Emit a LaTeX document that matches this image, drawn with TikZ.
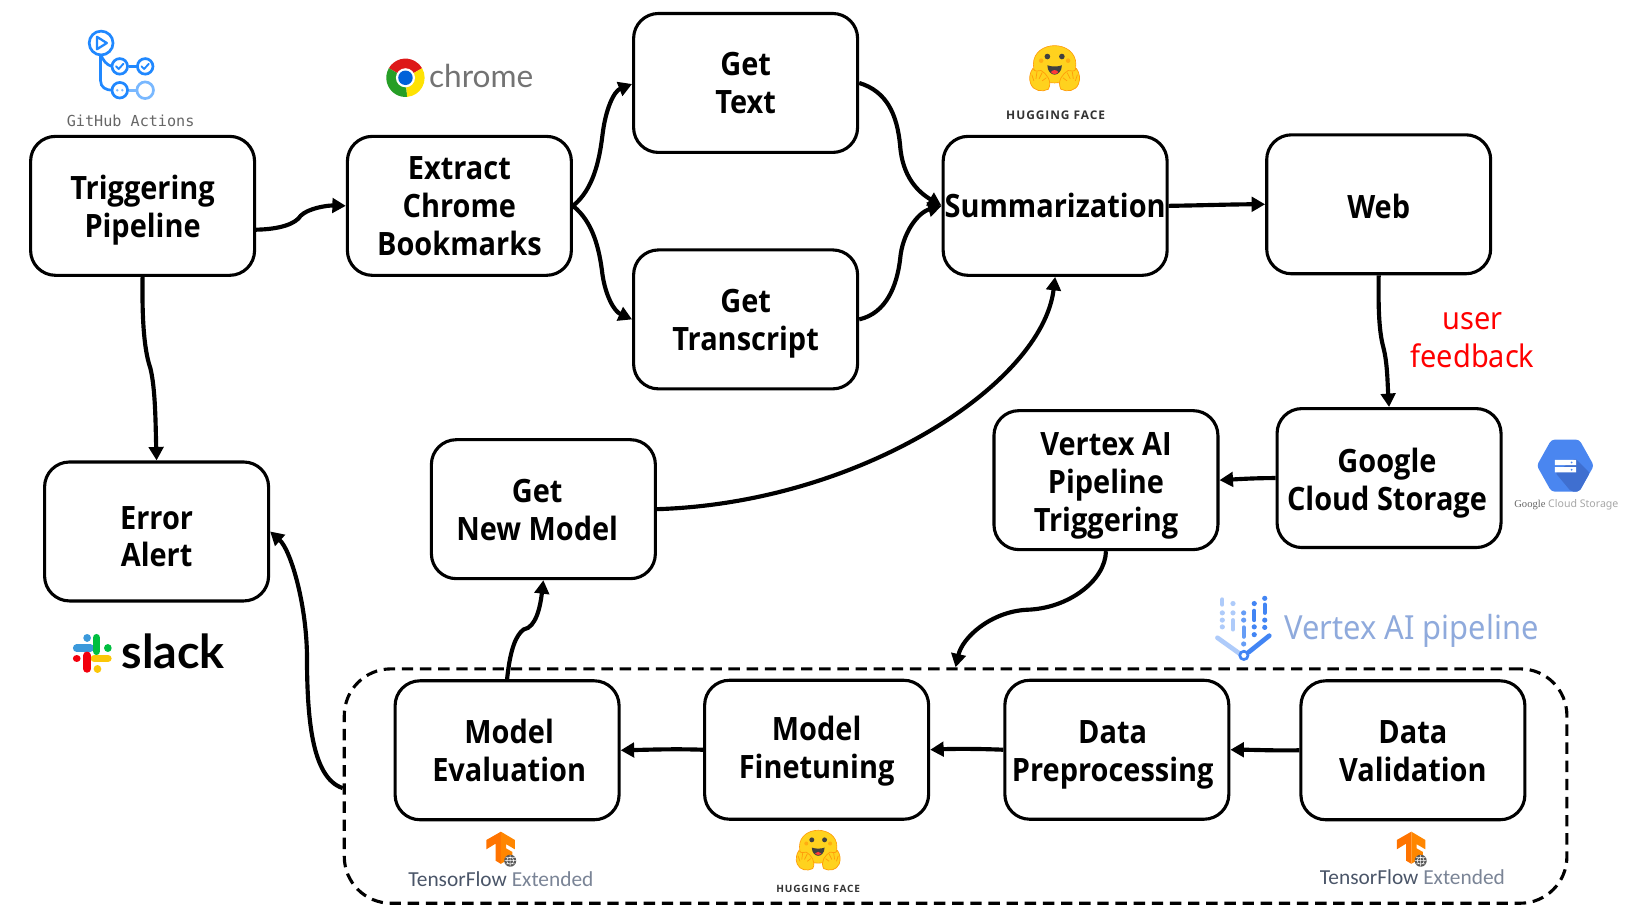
\documentclass[tikz,border=0pt]{standalone}
\usepackage{fontspec}
\setmainfont{Noto Sans}
\newfontfamily\boxf[FakeStretch=0.90]{Open Sans}
\newfontfamily\hff{Open Sans}
\newfontfamily\regf[FakeStretch=0.93]{Noto Sans}
\newfontfamily\monof{DejaVu Sans Mono}
\newfontfamily\latof{Lato}
\newfontfamily\carf{Carlito}
\newfontfamily\serf{Liberation Serif}
\usetikzlibrary{arrows.meta}
\definecolor{ghblue}{HTML}{2088FF}
\definecolor{ghlight}{HTML}{79B8FF}
\definecolor{hfy}{HTML}{FFD21E}
\definecolor{hfo}{HTML}{FF9D0B}
\definecolor{tfslate}{HTML}{4A5568}
\definecolor{tflight}{HTML}{7A8496}
\definecolor{vxblue}{HTML}{4285F4}
\definecolor{vxmid}{HTML}{669DF6}
\definecolor{vxlight}{HTML}{AECBFA}
\definecolor{vxtext}{HTML}{8FAADC}
\definecolor{gcsb}{HTML}{4A86F0}
\definecolor{gcsd}{HTML}{3F6FD0}
\newcommand{\stH}[1]{\rule{0pt}{#1pt}}
\newcommand{\stD}[1]{\rule[-#1pt]{0pt}{#1pt}}
\tikzset{
  box/.style={draw=black,line width=3pt,rounded corners=24pt,minimum width=216pt,minimum height=134pt,
    align=center,inner sep=0pt,font=\boxf\fontsize{31}{36.5}\selectfont\bfseries},
  conn/.style={line width=4pt,-{Triangle[length=13pt,width=14pt]}},
  bare/.style={inner sep=0pt,align=center},
  ghc/.style={draw=ghblue,line width=2.6pt,fill=white},
  vxl/.style={line width=4pt,line cap=round,color=vxlight},
  vxm/.style={line width=4pt,line cap=round,color=vxmid},
  vxb/.style={line width=4pt,line cap=round,color=vxblue},
}
\newcommand{\hflogo}[3]{%
  \begin{scope}[shift={(#1,#2)},scale=#3]
    \fill[hfy,draw=hfo,line width=.6pt] (-20.5,-4) .. controls (-20.5,-16) and (-10,-22) .. (0,-22)
       .. controls (10,-22) and (20.5,-16) .. (20.5,-4) .. controls (20.5,8) and (12,14) .. (0,14)
       .. controls (-12,14) and (-20.5,8) .. (-20.5,-4) -- cycle;
    \fill[hfo!70!hfy] (-13,-7.5) circle (2.2) (13,-7.5) circle (2.2);
    \fill[black!75] (-7,-11.5) circle (2.7) (7,-11.5) circle (2.7);
    \fill[black!75] (-7,-3) .. controls (-3,-1.5) and (3,-1.5) .. (7,-3) .. controls (7,3) and (3,6) .. (0,6) .. controls (-3,6) and (-7,3) .. (-7,-3) -- cycle;
    \fill[red!70!pink] (-3.5,3.5) .. controls (-2,1) and (2,1) .. (3.5,3.5) .. controls (2,6) and (-2,6) .. (-3.5,3.5) -- cycle;
    \foreach \s in {-1,1}{
      \begin{scope}[xscale=\s]
        \fill[hfy,draw=hfo,line width=.7pt] (6,20) .. controls (12,23) and (20,22) .. (23,15)
           .. controls (25,10) and (24,4) .. (21,0) .. controls (19,4) and (16,2) .. (13,2)
           .. controls (8,5) and (2,12) .. (6,20) -- cycle;
        \draw[hfo,line width=.7pt] (12,12) -- (8,9) (15,10) -- (12,4) (18,10) -- (17,3) (20,12) -- (22,6);
      \end{scope}}
  \end{scope}}
\newcommand{\tflogo}[2]{%
  \begin{scope}[shift={(#1,#2)}]
    \fill[orange!90!red] (0,-14) -- (-14,-6) -- (-14,3) -- (-5,-2.5) -- (-5,14) -- (0,17) -- cycle;
    \fill[orange!95!yellow] (0,-14) -- (13.5,-6) -- (13.5,3) -- (5,-2) -- (5,2) -- (11,5.5) -- (11,12) -- (5,9) -- (5,14) -- (0,17) -- cycle;
    \fill[black!65] (9,14) circle (5.8);
    \draw[white,line width=.5pt] (9,14) circle (3.4) (3.5,14) -- (14.5,14) (9,8.5) -- (9,19.5) (4.5,11) -- (13.5,11) (4.5,17) -- (13.5,17);
  \end{scope}}
\begin{document}
\begin{tikzpicture}[x=1pt,y=-1pt]
\useasboundingbox (0,0) rectangle (1568,881.4);
% boxes
\node[box] (trig) at (137.5,198.5) {\stH{32}Triggering\\Pipeline\stD{8}};
\node[box] (extract) at (443,198.5) {\stH{30}Extract\\Chrome\\Bookmarks\stD{8}};
\node[box] (gettext) at (719,80) {\stH{30}Get\\Text\stD{8}};
\node[box] (gettrans) at (719,308) {\stH{32}Get\\Transcript\stD{8}};
\node[box] (summ) at (1017.5,198.5) {\stH{30}Summarization\stD{8}};
\node[box] (web) at (1329.5,197) {\stH{36}Web\stD{8}};
\node[box] (error) at (151,512.5) {\stH{40}Error\\Alert\stD{8}};
\node[box] (getnew) at (524,491) {\stH{32}Get\hspace*{12pt}\\New Model\hspace*{12pt}\stD{8}};
\node[box] (vertex) at (1066.5,463) {\stH{34}Vertex AI\\Pipeline\\Triggering\stD{8}};
\node[box] (gcs) at (1339.5,461) {\stH{34}Google\hspace*{4pt}\\Cloud Storage\hspace*{4pt}\stD{8}};
\node[box] (eval) at (489,723.5) {\stH{32}\hspace*{4pt}Model\\\hspace*{4pt}Evaluation\stD{8}};
\node[box] (fine) at (787.5,723) {\stH{26}Model\\Finetuning\stD{8}};
\node[box] (prep) at (1077,723) {\stH{32}Data\hspace*{8pt}\\Preprocessing\hspace*{8pt}\stD{8}};
\node[box] (val) at (1362.5,723.5) {\stH{32}Data\\Validation\stD{8}};
\node[draw=black,line width=3pt,rounded corners=45pt,dash pattern=on 11pt off 6.5pt,minimum width=1179pt,minimum height=226pt] (group) at (921.5,758) {};
% labels
\node[bare,text=red,font=\regf\fontsize{30}{36}\selectfont] (fb) at (1420,328) {user\\feedback};
\node[bare,text=black!60,font=\monof\fontsize{14.6}{16}\selectfont] (ghlabel) at (126,117) {GitHub Actions};
\node[bare,text=black!55,font=\latof\fontsize{30.5}{36}\selectfont] (chlabel) at (464,73) {chrome};
\node[bare,text=black!80,font=\hff\bfseries\fontsize{11.5}{14}\selectfont\addfontfeature{LetterSpace=8}] (hf1) at (1018,111) {HUGGING FACE};
\node[bare,text=black!80,font=\hff\bfseries\fontsize{9.7}{12}\selectfont\addfontfeature{LetterSpace=8}] (hf2) at (789,857) {HUGGING FACE};
\node[bare,font=\carf\fontsize{20.6}{24}\selectfont] (tf1) at (483,848) {\textcolor{tfslate}{TensorFlow} \textcolor{tflight}{Extended}};
\node[bare,font=\carf\fontsize{20.6}{24}\selectfont] (tf2) at (1362,846) {\textcolor{tfslate}{TensorFlow} \textcolor{tflight}{Extended}};
\node[bare,font=\latof\bfseries\fontsize{45}{48}\selectfont] (slacklabel) at (167,628) {slack};
\node[bare,text=vxtext,font=\regf\fontsize{32}{36}\selectfont] (vxlabel) at (1361,608) {Vertex AI pipeline};
\node[bare,font=\fontsize{10.2}{13}\selectfont] (gcslabel) at (1510.5,487) {{\serf\textcolor{black!60}{Google}} \textcolor{black!35}{Cloud Storage}};
% connectors
\draw[conn] ([yshift=-23pt]trig.east) .. controls (270,221) and (285,216) .. (290,208) .. controls (297,201) and (315,198) .. (extract.west);
\draw[conn] (extract.east) .. controls (572,183) and (578,155) .. (581,130) .. controls (584,105) and (592,88) .. ([yshift=-1pt]gettext.west);
\draw[conn] (extract.east) .. controls (572,214) and (578,240) .. (581,265) .. controls (584,285) and (592,300) .. (gettrans.west);
\draw[conn] (gettext.east) .. controls (855,88) and (865,110) .. (868,140) .. controls (870,170) and (885,185) .. (summ.west);
\draw[conn] (gettrans.east) .. controls (855,302) and (865,275) .. (868,250) .. controls (870,225) and (885,205) .. (summ.west);
\draw[conn] (summ.east) .. controls (1160,198) and (1190,197) .. (web.west);
\draw[conn] (web.south) .. controls (1329,300) and (1330,320) .. (1334,335) .. controls (1338,350) and (1338,370) .. (gcs.north);
\draw[conn] (gcs.west) .. controls (1210,461) and (1195,462) .. (vertex.east);
\draw[conn] (vertex.south) .. controls (1066,560) and (1030,587) .. (990,588) .. controls (955,590) and (928,615) .. (group.north);
\draw[conn] (getnew.east) .. controls (830,485) and (1005,370) .. (summ.south);
\draw[conn] (trig.south) .. controls (137,300) and (138,335) .. (145,355) .. controls (150,375) and (150,410) .. (error.north);
\draw[conn] ([yshift=-2pt]group.west) .. controls (300,750) and (296,690) .. (296,630) .. controls (295,580) and (280,530) .. (error.east);
\draw[conn] (eval.north) .. controls (492,625) and (498,612) .. (505,607) .. controls (517,605) and (521,585) .. (getnew.south);
\draw[conn] (fine.west) .. controls (650,722) and (625,723) .. (eval.east);
\draw[conn] (prep.west) .. controls (945,722) and (920,722) .. (fine.east);
\draw[conn] (val.west) .. controls (1230,724) and (1210,723) .. (prep.east);
% GitHub Actions logo
\draw[ghblue,line width=2.6pt] (97,52) -- (97,78) .. controls (97,84) and (102,87) .. (108,87);
\draw[ghblue,line width=2.6pt] (97,52) .. controls (99,58) and (103,63) .. (108,64);
\draw[ghblue,line width=2.6pt] (124,64) -- (132,64);
\draw[ghlight,line width=2.6pt] (124,87) -- (131,87);
\draw[ghc] (97.5,41.5) circle (11.5);
\draw[ghblue,line width=2.2pt,line join=round] (93.5,35.5) -- (103,41.5) -- (93.5,47.5) -- cycle;
\draw[ghc] (115.5,64) circle (7.5);
\draw[ghc] (140,64) circle (7.5);
\draw[ghc] (115.5,87) circle (7.5);
\draw[draw=ghlight,line width=2.6pt,fill=white] (140,87) circle (8);
\draw[ghblue,line width=1.8pt,line cap=round,line join=round] (112,64) -- (114.5,66.5) -- (119,61.5) (136.5,64) -- (139,66.5) -- (143.5,61.5);
\fill[ghlight] (113,87) circle (1.3) (118,87) circle (1.3);
% Chrome logo
\begin{scope}[shift={(391,75)},yscale=-1]
  \fill[red!85!black!90] (0,0) -- (150:18.5) arc (150:30:18.5) -- cycle;
  \fill[green!55!black!85] (0,0) -- (150:18.5) arc (150:275:18.5) -- cycle;
  \fill[yellow!85!orange] (0,0) -- (30:18.5) arc (30:-85:18.5) -- cycle;
  \fill[white] (0,0) circle (9.2);
  \fill[blue!55!cyan!85!black] (0,0) circle (7);
\end{scope}
% Hugging Face logos
\hflogo{1017}{66}{1}
\hflogo{789}{820}{0.88}
% TFX logos
\tflogo{483}{816}
\tflogo{1361}{816}
% Slack logo
\begin{scope}[line cap=round,line width=7.4pt]
  \draw[cyan!70!blue!80] (74,625) -- (87,625);
  \draw[cyan!70!blue!80,line width=7.4pt] (84,615) -- (84.01,615);
  \draw[green!50!teal] (93,615) -- (93,628);
  \draw[green!50!teal] (104,625) -- (104.01,625);
  \draw[yellow!60!orange] (91,635) -- (104,635);
  \draw[yellow!60!orange] (94,645) -- (94.01,645);
  \draw[red!80!purple] (84,632) -- (84,645);
  \draw[red!80!purple] (74,635) -- (74.01,635);
\end{scope}
% GCS logo
\fill[gcsb,rounded corners=3pt] (1482,449) -- (1496,424) -- (1523,424) -- (1537,449) -- (1523,474) -- (1496,474) -- cycle;
\fill[gcsd,rounded corners=2pt] (1500,456) -- (1519,442) -- (1533,456) -- (1523,474) -- (1515,474) -- cycle;
\fill[white] (1499.5,443.5) rectangle (1520,448.5) (1499.5,450.5) rectangle (1520,455.5);
\fill[gcsb] (1515.5,446) circle (1) (1515.5,453) circle (1);
% Vertex AI logo
\draw[vxl,line width=4.5pt] (1174,615) -- (1195,630);
\draw[vxb,line width=4.5pt] (1224,613) -- (1204,629);
\draw[vxb,line width=2.6pt,fill=white] (1199.5,632) circle (4);
\draw[vxl] (1178.7,578) -- (1178.7,583);
\fill[vxl] (1178.7,591) circle (2.5) (1178.7,598) circle (2.5) (1178.7,604.5) circle (2.5);
\fill[vxl] (1189,582) circle (2.5) (1189,591) circle (2.5);
\draw[vxl] (1189,598) -- (1189,607);
\fill[vxm] (1199.3,591) circle (2.5) (1199.3,598) circle (2.5) (1199.3,621) circle (2.5);
\draw[vxm] (1199.3,605) -- (1199.3,614);
\fill[vxb] (1209.5,582) circle (2.5) (1209.5,604.5) circle (2.5) (1209.5,612) circle (2.5);
\draw[vxb] (1209.5,589) -- (1209.5,598);
\fill[vxb] (1219.6,577) circle (2.5) (1219.6,598) circle (2.5) (1219.6,605) circle (2.5);
\draw[vxb] (1219.6,583) -- (1219.6,591);
\end{tikzpicture}
\end{document}
